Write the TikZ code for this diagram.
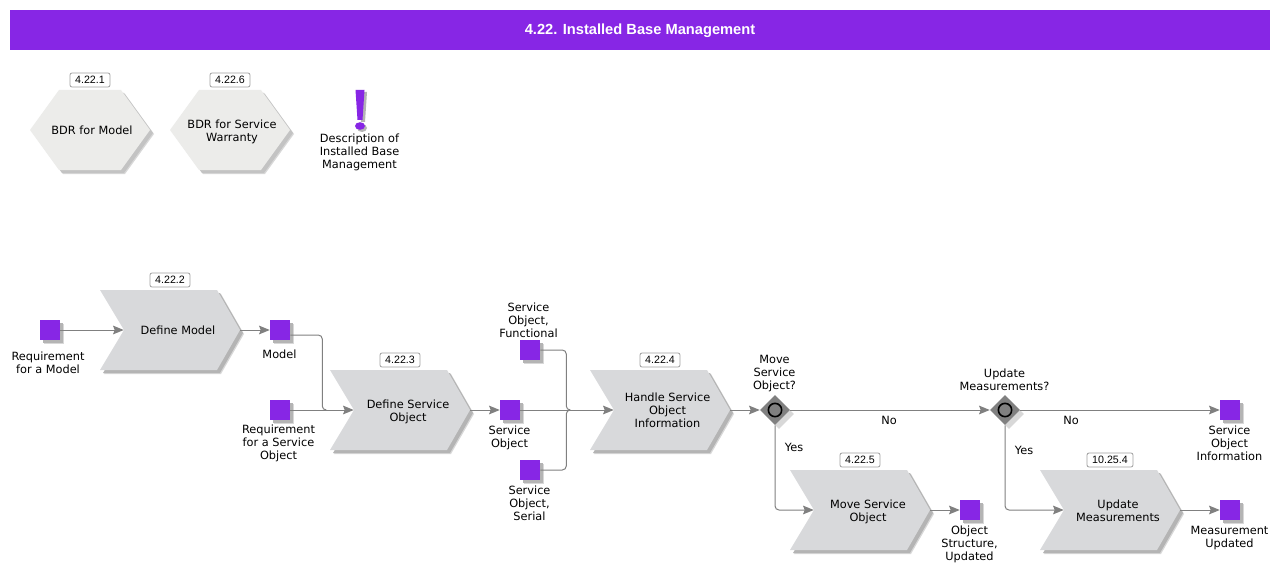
\documentclass[tikz,border=0pt]{standalone}
\usepackage{fontspec}
\setmainfont{DejaVu Sans}
\newfontfamily\badgefont{Liberation Sans}
\newfontfamily\titlefont{Liberation Sans}
\usetikzlibrary{arrows.meta,shapes.geometric,shadows}
\definecolor{pur}{HTML}{8726E5}
\definecolor{chevc}{HTML}{D8D9DB}
\definecolor{hexc}{HTML}{ECECEA}
\definecolor{conn}{HTML}{808080}
\definecolor{shad}{HTML}{B4B4B4}
\definecolor{shadl}{HTML}{D8D8D8}
\tikzset{
  x=0.75pt,y=-0.75pt,
  txt/.style={inner sep=0pt,align=center,font=\fontsize{8.5pt}{9.75pt}\selectfont,text=black,
    execute at begin node={\rule[-1.25pt]{0pt}{9.75pt}},execute at end node={\rule[-1.25pt]{0pt}{9.75pt}}},
  badgetxt/.style={inner sep=0pt,font=\badgefont\fontsize{8pt}{9pt}\selectfont},
  badge/.style={draw=gray!75,fill=white,rounded corners=1.5pt,line width=0.6pt,minimum width=30pt,minimum height=10.5pt,inner sep=0pt,badgetxt},
  box/.style={inner sep=0pt,minimum width=105pt,minimum height=60pt},
  sq/.style={fill=pur,minimum size=15pt,inner sep=0pt,general shadow={fill=shadl,shadow xshift=3.2pt,shadow yshift=-3.2pt},general shadow={fill=shad,shadow xshift=2.4pt,shadow yshift=-2.4pt}},
  dia/.style={diamond,aspect=1,fill=conn,minimum size=22.5pt,inner sep=0pt,general shadow={fill=shadl,shadow xshift=3pt,shadow yshift=-3pt}},
  ring/.style={circle,draw=black,fill=conn,line width=1.2pt,minimum size=10pt,inner sep=0pt},
  link/.style={draw=conn,line width=0.75pt,rounded corners=3pt},
  arr/.style={link,-{Stealth[length=8pt,width=6.5pt,inset=1.2pt,color=conn]}},
}
\newcommand{\chev}[6]{%
 \begin{scope}[shift={(#2,#3)}]
  \fill[shadl] (-66,-36)--(51,-36)--(74,4)--(51,44)--(-66,44)--(-42,4)--cycle;
  \fill[shad] (-67,-37)--(50,-37)--(73,3)--(50,43)--(-67,43)--(-43,3)--cycle;
  \fill[chevc] (-70,-40)--(47,-40)--(70,0)--(47,40)--(-70,40)--(-46,0)--cycle;
  \node[box] (#1) at (0,0) {};
  \node[txt] (#1-t) at (#5) {#4};
  \node[badge,minimum width=#6pt] (#1-b) at (0,-50) {};
 \end{scope}}
\newcommand{\hexa}[6]{%
 \begin{scope}[shift={(#2,#3)}]
  \fill[shadl] (-27,-36)--(35,-36)--(64,4)--(35,44)--(-27,44)--(-56,4)--cycle;
  \fill[shad!80!white] (-28,-37)--(34,-37)--(63,3)--(34,43)--(-28,43)--(-57,3)--cycle;
  \fill[hexc] (-31,-40)--(31,-40)--(60,0)--(31,40)--(-31,40)--(-60,0)--cycle;
  \node[txt] (#1) at (#6) {#4};
  \node[badge] (#1-b) at (0,-50) {#5};
 \end{scope}}
\begin{document}
\begin{tikzpicture}
\useasboundingbox (0,0) rectangle (1280,574);
\fill[white] (0,0) rectangle (1280,574);
\fill[pur] (10,10) rectangle (1270,50);
\node[inner sep=0pt,text=white,font=\titlefont\bfseries\fontsize{11pt}{12pt}\selectfont] (title) at (640,30.5) {4.22. Installed Base Management};
\hexa{h1}{90}{130}{BDR for Model}{4.22.1}{2,0}
\hexa{h2}{230}{130}{BDR for Service\\Warranty}{4.22.6}{2,2}
% exclamation mark
\fill[shad] (357.5,92)--(367,92)--(365,122)--(361,122)--cycle;
\fill[shad] (362,128) ellipse (5 and 4);
\fill[pur] (355.5,90)--(364.5,90)--(362.5,120)--(357.5,120)--cycle;
\fill[pur] (360,126) ellipse (5 and 3.8);
\node[txt] (desc) at (359.5,152) {Description of\\Installed Base\\Management};
% chevrons
\chev{dm}{170}{330}{Define Model}{8,0}{30}
\chev{ds}{400}{410}{Define Service\\Object}{8,2}{30}
\chev{hs}{660}{410}{Handle Service\\Object\\Information}{7.5,1}{30}
\chev{mv}{860}{510}{Move Service\\Object}{8,2}{30}
\chev{um}{1110}{510}{Update\\Measurements}{8,2}{34.5}
\node[badgetxt] at (dm-b) {4.22.2};
\node[badgetxt] at (ds-b) {4.22.3};
\node[badgetxt] at (hs-b) {4.22.4};
\node[badgetxt] at (mv-b) {4.22.5};
\node[badgetxt] at (um-b) {10.25.4};
% squares
\node[sq] (s1) at (50,330) {};
\node[sq] (s2) at (280,330) {};
\node[sq] (s3) at (280,410) {};
\node[sq] (s4) at (510,410) {};
\node[sq] (s5) at (530,350) {};
\node[sq] (s6) at (530,470) {};
\node[sq] (s7) at (970,510) {};
\node[sq] (s8) at (1230,410) {};
\node[sq] (s9) at (1230,510) {};
% gateways
\node[dia] (g1) at (775,410) {};
\node[ring] at (775,410) {};
\node[dia] (g2) at (1005,410) {};
\node[ring] at (1005,410) {};
% labels
\node[txt] (l1) at (48,363.5) {Requirement\\for a Model};
\node[txt] (l2) at (279.5,354) {Model};
\node[txt] (l3) at (278.5,443) {Requirement\\for a Service\\Object};
\node[txt] (l4) at (528.5,321) {Service\\Object,\\Functional};
\node[txt] (l5) at (509.5,437.5) {Service\\Object};
\node[txt] (l6) at (529.5,504) {Service\\Object,\\Serial};
\node[txt] (l7) at (774.5,374) {Move\\Service\\Object?};
\node[txt] (l8) at (1004.5,380.5) {Update\\Measurements?};
\node[txt] (l9) at (1229.5,444) {Service\\Object\\Information};
\node[txt] (l10) at (969.5,544) {Object\\Structure,\\Updated};
\node[txt] (l11) at (1229.5,538.5) {Measurement\\Updated};
\node[txt] (n1) at (889,420) {No};
\node[txt] (n2) at (1071,420) {No};
\node[txt] (y1) at (794,447) {Yes};
\node[txt] (y2) at (1024,450) {Yes};
% connectors
\draw[arr] (s1.east) -- ([xshift=18pt]dm.west);
\draw[arr] (dm.east) -- (s2.west);
\draw[link] ([yshift=-3.75pt]s2.east) -| ++(32,75) -- ++(4,0);
\draw[arr] (s3.east) -- ([xshift=18pt]ds.west);
\draw[arr] (ds.east) -- (s4.west);
\draw[arr] (s4.east) -- ([xshift=18pt]hs.west);
\draw[link] (s5.east) -| ++(26,60) -- ++(4,0);
\draw[link] (s6.east) -| ++(26,-60) -- ++(4,0);
\draw[arr] (hs.east) -- (g1.west);
\draw[arr] (g1.east) -- (g2.west);
\draw[arr] (g2.east) -- (s8.west);
\draw[arr] (g1.south) |- ([xshift=18pt]mv.west);
\draw[arr] (g2.south) |- ([xshift=18pt]um.west);
\draw[arr] (mv.east) -- (s7.west);
\draw[arr] (um.east) -- (s9.west);
\end{tikzpicture}
\end{document}
